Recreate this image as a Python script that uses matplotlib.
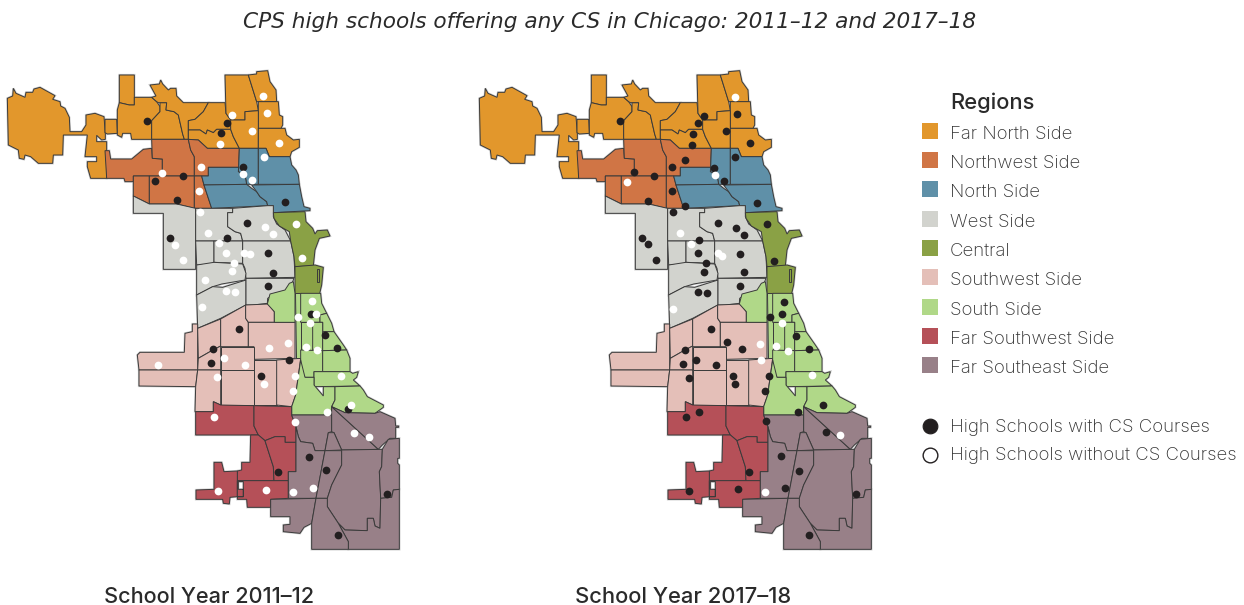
#!/usr/bin/env python3
"""CPS high schools offering any CS in Chicago, two school years side by side"""

import matplotlib
matplotlib.use("Agg")
import matplotlib.pyplot as plt
from matplotlib.patches import Polygon, Rectangle

plt.rcParams['font.family'] = ['Inter', 'DejaVu Sans']

TITLE = "CPS high schools offering any CS in Chicago: 2011\u201312 and 2017\u201318"
YEARS = ["School Year 2011\u201312", "School Year 2017\u201318"]
REGIONS = ["Far North Side", "Northwest Side", "North Side", "West Side", "Central",
           "Southwest Side", "South Side", "Far Southwest Side", "Far Southeast Side"]
COLORS = ["#E2972C", "#D07545", "#5F90A8", "#D2D3CE", "#8AA145",
          "#E4BFB8", "#B0D888", "#B55058", "#988088"]

# Boundaries. "north" lists use one grid, "south" lists
# a second grid shifted by (390, 690) so they can be read from a crop of the lower half.
far_north = [
    [(22,115),(38,108),(40,85),(48,100),(75,112),(78,97),(98,97),(102,87),(120,82),(165,107),(158,118),
     (180,125),(182,138),(195,145),(208,172),(210,215),(245,215),(258,195),(258,165),(285,160),(312,170),
     (316,222),(316,238),(305,240),(290,226),(290,245),(320,245),(320,355),(272,355),(262,320),(262,305),
     (290,305),(290,290),(255,290),(262,225),(190,225),(188,285),(160,285),(158,310),(115,310),(92,290),
     (75,285),(72,298),(58,295),(55,270),(25,255)],
    [(315,178),(350,178),(352,220),(322,222),(315,218)],
    [(358,45),(403,45),(403,135),(388,135),(358,128)],
    [(358,128),(388,135),(403,135),(403,112),(455,112),(470,125),(480,140),(480,155),(455,182),(455,238),
     (395,238),(392,220),(368,220),(365,232),(352,225),(352,150)],
    [(455,182),(480,155),(480,128),(500,128),(498,150),(522,155),(535,165),(548,222),(553,238),(455,238)],
    [(450,75),(478,72),(482,60),(488,72),(505,90),(512,85),(528,85),(530,108),(550,128),(625,128),(610,155),
     (585,178),(565,182),(565,238),(553,238),(548,222),(535,165),(522,155),(498,150),(500,128),(475,128),
     (470,125),(455,112),(468,108)],
    [(565,182),(585,178),(610,155),(625,128),(675,128),(678,160),(692,180),(692,208),(650,208),(640,218),
     (622,210),(618,222),(600,210),(565,210)],
    [(565,210),(600,210),(618,222),(622,210),(640,218),(650,208),(692,208),(700,230),(718,265),(622,265),
     (595,240),(565,238)],
    [(675,45),(745,45),(770,125),(775,152),(735,155),(735,180),(692,180),(678,160)],
    [(745,45),(770,42),(770,35),(803,32),(810,65),(828,90),(830,125),(770,125)],
    [(775,125),(835,125),(838,165),(848,170),(848,195),(843,205),(775,205)],
    [(692,180),(735,180),(735,155),(775,152),(775,265),(718,265),(700,230),(692,208)],
    [(775,205),(855,205),(860,225),(880,240),(898,238),(898,262),(875,275),(870,290),(808,290),(798,265),(775,265)],
]
northwest = [
    [(315,272),(328,272),(332,297),(395,297),(430,268),(455,265),(457,295),(487,297),(487,348),(400,348),
     (400,365),(375,365),(372,355),(320,355)],
    [(455,238),(565,238),(572,270),(583,290),(583,348),(487,348),(487,297),(457,295)],
    [(565,238),(595,240),(622,265),(718,265),(716,322),(625,322),(625,348),(583,348),(583,290),(572,270)],
    [(400,348),(448,348),(448,432),(400,408)],
    [(448,348),(583,348),(583,445),(530,432),(448,432)],
    [(583,348),(605,348),(612,375),(635,445),(583,445)],
]
north_side = [
    [(718,265),(775,265),(775,373),(740,373),(735,345),(715,335),(716,322)],
    [(775,265),(798,265),(808,290),(870,290),(875,315),(888,330),(895,345),(898,373),(775,373)],
    [(625,322),(716,322),(715,335),(735,345),(740,373),(612,375),(605,348),(625,348)],
    [(612,375),(740,373),(755,385),(770,395),(780,410),(800,425),(803,437),(635,445)],
    [(755,375),(898,373),(905,410),(912,440),(930,445),(930,452),(820,458),(820,437),(803,437),(800,425),
     (780,410),(770,395)],
]
west_north = [
    [(400,408),(400,460),(490,460),(490,628),(587,628),(587,445),(530,432),(448,432)],
    [(587,445),(698,445),(698,458),(683,458),(683,500),(705,515),(722,520),(728,543),(587,543)],
    [(698,445),(803,437),(820,437),(820,470),(830,492),(855,510),(872,543),(728,543),(722,520),(705,515),
     (683,500),(683,458),(698,458)],
    [(587,543),(642,543),(642,612),(590,615)],
    [(642,543),(728,543),(728,610),(642,607)],
    [(728,543),(872,543),(882,590),(885,652),(738,655),(735,625),(728,610)],
    [(590,615),(642,607),(728,612),(738,640),(735,660),(665,672),(638,680),(590,705)],
    [(590,705),(638,680),(668,682),(738,660),(738,735),(662,775),(593,805)],
    [(738,655),(882,655),(868,690),(825,700),(803,715),(802,730),(760,735),(738,735)],
]
central = [
    [(820,458),(915,455),(918,485),(938,505),(945,522),(952,512),(982,510),(990,528),(958,535),(945,570),
     (940,617),(885,620),(882,590),(872,543),(868,515),(838,498),(822,475)],
    [(885,620),(945,615),(970,622),(965,675),(958,705),(885,703)],
    [(950,628),(958,628),(958,665),(950,665)],
]
southwest = [
    [(22,195),(30,187),(163,187),(165,130),(187,125),(187,102),(203,102),(203,240),(27,240)],
    [(27,240),(203,240),(197,290),(27,288)],
    [(203,115),(272,87),(272,168),(240,185),(205,205)],
    [(205,205),(240,185),(272,168),(272,240),(203,240)],
    [(203,240),(272,240),(272,345),(250,335),(250,365),(195,365),(197,290)],
    [(272,87),(347,45),(347,85),(355,97),(355,170),(272,170)],
    [(347,45),(415,42),(433,65),(433,97),(355,97),(347,85)],
    [(355,97),(495,97),(495,205),(372,208),(372,170),(355,170)],
    [(272,170),(372,170),(372,240),(272,240)],
    [(272,240),(372,240),(372,345),(272,345)],
    [(372,210),(440,210),(440,345),(372,345)],
    [(440,210),(512,205),(497,315),(485,350),(440,345)],
]
south_side = [
    [(412,42),(420,12),(465,0),(478,-20),(490,-25),(495,10),(495,97),(433,97),(433,65)],
    [(495,10),(512,10),(512,205),(497,205)],
    [(512,10),(572,10),(575,40),(585,60),(590,70),(570,75),(570,97),(512,97)],
    [(570,75),(590,70),(605,100),(612,125),(578,125),(578,97),(570,97)],
    [(512,97),(548,97),(548,180),(512,180)],
    [(548,97),(578,97),(578,182),(548,180)],
    [(578,125),(612,125),(640,165),(650,180),(578,182)],
    [(512,180),(578,182),(578,245),(552,245),(552,262),(525,262),(512,245)],
    [(578,182),(650,180),(660,205),(660,245),(578,245)],
    [(552,245),(660,245),(668,250),(685,245),(680,262),(670,270),(690,288),(552,290)],
    [(512,210),(525,262),(552,262),(552,285),(580,318),(580,290),(615,290),(615,330),(605,350),(605,375),
     (485,375),(485,350),(497,315)],
    [(615,290),(690,288),(700,300),(712,320),(760,345),(760,352),(735,370),(645,368),(605,350),(615,330)],
]
far_southwest = [
    [(197,365),(250,365),(250,335),(272,345),(372,347),(372,408),(385,435),(197,435)],
    [(372,347),(485,350),(485,375),(498,410),(498,457),(465,457),(465,440),(435,440),(405,452),(385,435),(372,408)],
    [(362,435),(385,435),(405,452),(430,530),(432,572),(322,572),(322,543),(335,540),(335,517),(360,517)],
    [(405,452),(435,440),(465,440),(465,457),(498,457),(498,545),(475,545),(475,572),(432,572),(430,530)],
    [(252,517),(275,517),(282,545),(322,543),(322,620),(300,622),(298,642),(280,640),(278,628),(198,628),
     (198,600),(252,598)],
    [(322,572),(475,572),(475,625),(422,628),(422,652),(352,652),(350,628),(322,628),(322,620),(340,620),
     (340,575),(325,575),(325,598),(340,598),(340,620),(322,620)],
]
far_southeast = [
    [(485,375),(605,375),(605,425),(595,428),(585,482),(555,482),(548,460),(512,455),(505,440),(498,410)],
    [(605,350),(745,478),(635,480),(612,428),(605,425)],
    [(605,350),(645,368),(735,370),(750,365),(795,385),(797,408),(806,408),(806,412),(797,412),(797,445),
     (780,445),(757,465),(745,478)],
    [(595,428),(612,428),(635,480),(585,482)],
    [(498,457),(498,410),(505,440),(512,455),(548,460),(555,482),(585,482),(558,625),(475,625),(475,545),(498,545)],
    [(585,482),(635,482),(635,525),(605,585),(592,625),(558,625)],
    [(635,480),(757,478),(755,530),(748,545),(752,620),(750,715),(735,708),(730,685),(712,685),(712,722),
     (645,720),(625,700),(592,650),(592,625),(605,585),(635,525)],
    [(757,478),(775,448),(808,445),(808,505),(803,505),(803,520),(808,525),(808,598),(790,600),(785,622),
     (752,625),(748,545),(755,530)],
    [(752,625),(785,622),(790,600),(808,598),(808,778),(655,778),(655,755),(625,700),(645,720),(712,722),
     (712,685),(730,685),(735,708),(750,715)],
    [(422,628),(558,625),(545,700),(522,712),(510,730),(460,725),(460,705),(480,703),(480,680),(422,680)],
    [(558,625),(592,625),(592,650),(625,700),(655,755),(655,778),(545,778),(545,700)],
]

# schools
left_with_north = [(442,182),(680,190),(663,220),(728,320),(548,347),(465,362),(530,420),(856,427),(740,488),
                   (510,534),(682,535),(803,578),(818,638),(805,677)]
left_without_north = [(790,108),(802,158),(696,165),(757,213),(837,250),(660,252),(792,290),(602,322),(486,338),
                      (729,342),(757,361),(598,392),(600,456),(887,491),(794,500),(818,522),(625,519),(658,550),
                      (524,556),(678,579),(733,578),(751,583),(550,600),(907,595),(702,608),(697,634),(615,661),
                      (678,692),(705,695),(937,724),(605,740)]
left_with_south = [(327,118),(543,71),(585,136),(622,173),(250,176),(243,220),(478,211),(392,257),(443,546),
                   (537,500),(588,540),(772,611),(623,735),(655,357)]
left_without_south = [(503,82),(558,71),(540,98),(473,159),(527,170),(418,175),(562,180),(283,205),(344,224),
                      (85,224),(495,259),(633,257),(262,261),(401,283),(490,302),(662,344),(592,365),(252,382),
                      (495,396),(672,428),(716,441),(550,595),(263,602),(409,599),(488,607)]
right_with_north = [(449,183),(702,168),(683,190),(802,161),(767,214),(670,222),(667,254),(841,250),(796,292),
                    (646,300),(607,322),(733,323),(491,335),(553,349),(762,362),(607,393),(535,423),(646,438),
                    (862,430),(609,455),(891,493),(743,490),(799,503),(823,524),(517,534),(533,553),(687,539),
                    (685,580),(810,581),(558,601),(708,610),(912,603),(702,635),(823,637),(810,679),(683,695),
                    (711,698),(941,727)]
right_without_north = [(795,110),(735,344),(472,365),(631,519),(664,552),(743,578),(755,588)]
right_with_south = [(333,118),(380,156),(425,178),(255,179),(287,209),(250,222),(349,224),(267,265),(398,257),
                    (405,283),(508,259),(495,304),(297,365),(258,380),(499,394),(546,73),(509,82),(589,137),
                    (628,176),(668,346),(595,365),(677,427),(543,498),(597,543),(448,547),(555,595),(415,598),
                    (268,603),(768,611),(627,734)]
right_without_south = [(219,58),(545,98),(479,161),(529,168),(565,184),(484,211),(637,255),(721,436),(495,606)]


def north(pts, x0):
    return [(x0 + x / 3, 60 + y / 3) for x, y in pts]


def south(pts, x0):
    return [(x0 + (x + 390) / 3, 60 + (y + 690) / 3) for x, y in pts]


def draw_map(ax, x0):
    """Draw all region polygons with their left edge shifted to x0"""
    groups = [(far_north, north), (northwest, north), (north_side, north), (west_north, north),
              (central, north), (southwest, south), (south_side, south), (far_southwest, south),
              (far_southeast, south)]
    for (polys, conv), color in zip(groups, COLORS):
        for poly in polys:
            pts = conv(poly, x0)
            ax.add_patch(Polygon(pts, closed=True, fc='none', ec='#cccccc', lw=1.6, zorder=1))
    for (polys, conv), color in zip(groups, COLORS):
        for poly in polys:
            pts = conv(poly, x0)
            ax.add_patch(Polygon(pts, closed=True, fc=color, ec='#3a3a3a', lw=0.7,
                                 joinstyle='miter', zorder=2))


def draw_schools(ax, pts, color):
    xs, ys = zip(*pts)
    ax.scatter(xs, ys, s=31, color=color, linewidths=0, zorder=4)


fig = plt.figure(figsize=(12.44, 6.05), dpi=100)
ax = fig.add_axes([0, 0, 1, 1])
ax.set_xlim(0, 1244)
ax.set_ylim(605, 0)
ax.axis('off')

# left map
draw_map(ax, 0)
draw_schools(ax, north(left_with_north, 0) + south(left_with_south, 0), '#231f20')
draw_schools(ax, north(left_without_north, 0) + south(left_without_south, 0), 'white')

draw_map(ax, 472)
draw_schools(ax, north(right_with_north, 470) + south(right_with_south, 470), '#231f20')
draw_schools(ax, north(right_without_north, 470) + south(right_without_south, 470), 'white')

ax.text(610, 22, TITLE, ha='center', va='center', fontsize=15.6, style='italic',
        family='DejaVu Sans', color='#2a2a2a')
ax.text(104, 597, YEARS[0], va='center', fontsize=15.6, fontweight='medium', color='#2a2a2a')
ax.text(575, 597, YEARS[1], va='center', fontsize=15.8, fontweight='medium', color='#2a2a2a')

# legend
legend_y = [133, 162, 191, 221, 250, 279, 309, 338, 367]
ax.text(950, 103, "Regions", va='center', fontsize=15.8, fontweight='medium', color='#2a2a2a')
for name, color, y in zip(REGIONS, COLORS, legend_y):
    ax.add_patch(Rectangle((922, y - 10), 16, 16, fc=color, ec='none'))
    ax.text(950, y + 1, name, va='center', fontsize=13.4, fontweight='light', color='#333333')

ax.scatter([930], [426], s=112, color='#231f20', linewidths=0.8, edgecolors='#231f20', zorder=4)
ax.scatter([930], [455], s=112, color='white', linewidths=1.0, edgecolors='#231f20', zorder=4)
ax.text(950, 427, "High Schools with CS Courses", va='center', fontsize=13.4, fontweight='light', color='#333333')
ax.text(950, 456, "High Schools without CS Courses", va='center', fontsize=13.4, fontweight='light', color='#333333')

plt.savefig('out.png', dpi=100)
plt.close()
